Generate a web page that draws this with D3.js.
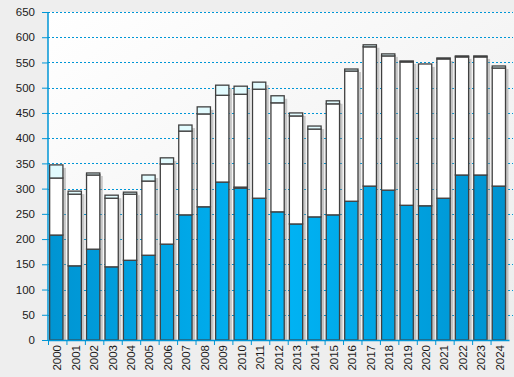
<!DOCTYPE html>
<html>
<head>
<meta charset="utf-8">
<script src="https://cdn.jsdelivr.net/npm/d3@7"></script>
<style>
  body { margin: 0; background: #eeeeee; }
  svg { display: block; font-family: "Liberation Sans", Arial, sans-serif; }
</style>
</head>
<body>
<div id="chart"></div>
<script>
// chart data
var years = ["2000","2001","2002","2003","2004","2005","2006","2007","2008","2009","2010","2011","2012",
             "2013","2014","2015","2016","2017","2018","2019","2020","2021","2022","2023","2024"];
var seriesBlue  = [208,147,180,145,158,168,190,248,264,313,301,281,254,230,244,248,275,305,297,267,266,281,327,327,305];
var seriesThin  = [0,0,0,0,0,0,0,0,0,0,2,0,0,0,0,0,0,0,0,0,0,0,0,0,0];
var seriesWhite = [113,142,147,136,131,147,159,166,184,172,184,216,216,214,174,220,258,276,266,284,281,276,234,234,234];
var seriesCyan  = [26,6,4,6,4,12,12,12,14,20,16,14,14,6,6,6,4,4,4,2,0,2,2,2,4];
var yTicks = [0,50,100,150,200,250,300,350,400,450,500,550,600,650];

var margin = {top: 12, right: 5, bottom: 37, left: 48},
    width = 514 - margin.left - margin.right,
    height = 377 - margin.top - margin.bottom;

var svg = d3.select("#chart")
  .append("svg")
    .attr("width", 514)
    .attr("height", 377);

var defs = svg.append("defs");
var bg = defs.append("linearGradient").attr("id", "bg")
  .attr("x1", "0%").attr("y1", "0%").attr("x2", "100%").attr("y2", "100%");
bg.append("stop").attr("offset", "0%").attr("stop-color", "#ffffff");
bg.append("stop").attr("offset", "100%").attr("stop-color", "#ececec");

var blue = defs.append("linearGradient").attr("id", "blue")
  .attr("gradientUnits", "userSpaceOnUse")
  .attr("x1", 0).attr("y1", 0).attr("x2", width).attr("y2", 0);
blue.append("stop").attr("offset", "0%").attr("stop-color", "#0094d2");
blue.append("stop").attr("offset", "50%").attr("stop-color", "#00b4f5");
blue.append("stop").attr("offset", "100%").attr("stop-color", "#0092cf");

var g = svg.append("g")
  .attr("transform", "translate(" + margin.left + "," + margin.top + ")");

// plot background
g.append("rect")
  .attr("width", width + 5)
  .attr("height", height)
  .attr("fill", "url(#bg)");

var x = d3.scaleBand()
  .domain(years)
  .range([0, width]);

var y = d3.scaleLinear()
  .domain([0, 650])
  .range([height, 0]);

// grid lines
g.selectAll(".grid")
  .data(yTicks.slice(1))
  .enter()
  .append("line")
    .attr("x1", 0)
    .attr("x2", width + 4)
    .attr("y1", function(d) { return Math.round(y(d)) + 0.5; })
    .attr("y2", function(d) { return Math.round(y(d)) + 0.5; })
    .attr("stroke", "#0096d6")
    .attr("stroke-dasharray", "2,2");

// stack the series
var table = years.map(function(yr, i) {
  return {year: yr, blue: seriesBlue[i], thin: seriesThin[i], white: seriesWhite[i], cyan: seriesCyan[i]};
});
var keys = ["blue", "thin", "white", "cyan"];
var fills = {blue: "url(#blue)", thin: "#ffffff", white: "#ffffff", cyan: "#e2fbfe"};
var stacked = d3.stack().keys(keys)(table);

var bw = x.bandwidth() * 0.72,
    off = x.bandwidth() * 0.09;

// shadows
g.selectAll(".shadow")
  .data(table)
  .enter()
  .append("rect")
    .attr("x", function(d) { return x(d.year) + off + 3; })
    .attr("y", function(d) { return y(d.blue + d.thin + d.white + d.cyan) + 3; })
    .attr("width", bw)
    .attr("height", function(d) { return height - 3 - y(d.blue + d.thin + d.white + d.cyan); })
    .attr("fill", "#8c8c8c")
    .attr("opacity", 0.45);

// bars
stacked.forEach(function(layer) {
  g.selectAll(".bar-" + layer.key)
    .data(layer.filter(function(d) { return d[1] > d[0]; }))
    .enter()
    .append("rect")
      .attr("x", function(d) { return x(d.data.year) + off; })
      .attr("y", function(d) { return y(d[1]); })
      .attr("width", bw)
      .attr("height", function(d) { return y(d[0]) - y(d[1]); })
      .attr("fill", fills[layer.key])
      .attr("stroke", "#404040")
      .attr("stroke-width", 1.3);
});

// Y axis
var yAxis = g.append("g")
  .call(d3.axisLeft(y).tickValues(yTicks).tickSize(6).tickPadding(7));
yAxis.select(".domain").attr("stroke", "#0096d6").attr("stroke-width", 1.5).attr("d", "M0," + height + "V0");
yAxis.selectAll(".tick line").attr("stroke", "#0096d6");
yAxis.selectAll("text").style("font-size", "11.5px").attr("fill", "#1a1a1a");

// X axis
var xAxis = g.append("g")
  .attr("transform", "translate(0," + height + ")")
  .call(d3.axisBottom(x).tickSize(0));
xAxis.select(".domain").attr("stroke", "#0096d6").attr("stroke-width", 1.5);
xAxis.selectAll(".tick text")
  .style("font-size", "11.5px")
  .attr("fill", "#1a1a1a")
  .attr("transform", "rotate(-90)")
  .attr("x", -5)
  .attr("y", 0)
  .attr("dy", "0.35em")
  .style("text-anchor", "end");

// band boundary ticks
g.selectAll(".xtick")
  .data(years)
  .enter()
  .append("line")
    .attr("x1", function(d) { return x(d) + 0.5; })
    .attr("x2", function(d) { return x(d) + 0.5; })
    .attr("y1", height)
    .attr("y2", height + 5)
    .attr("stroke", "#0096d6");
</script>
</body>
</html>
